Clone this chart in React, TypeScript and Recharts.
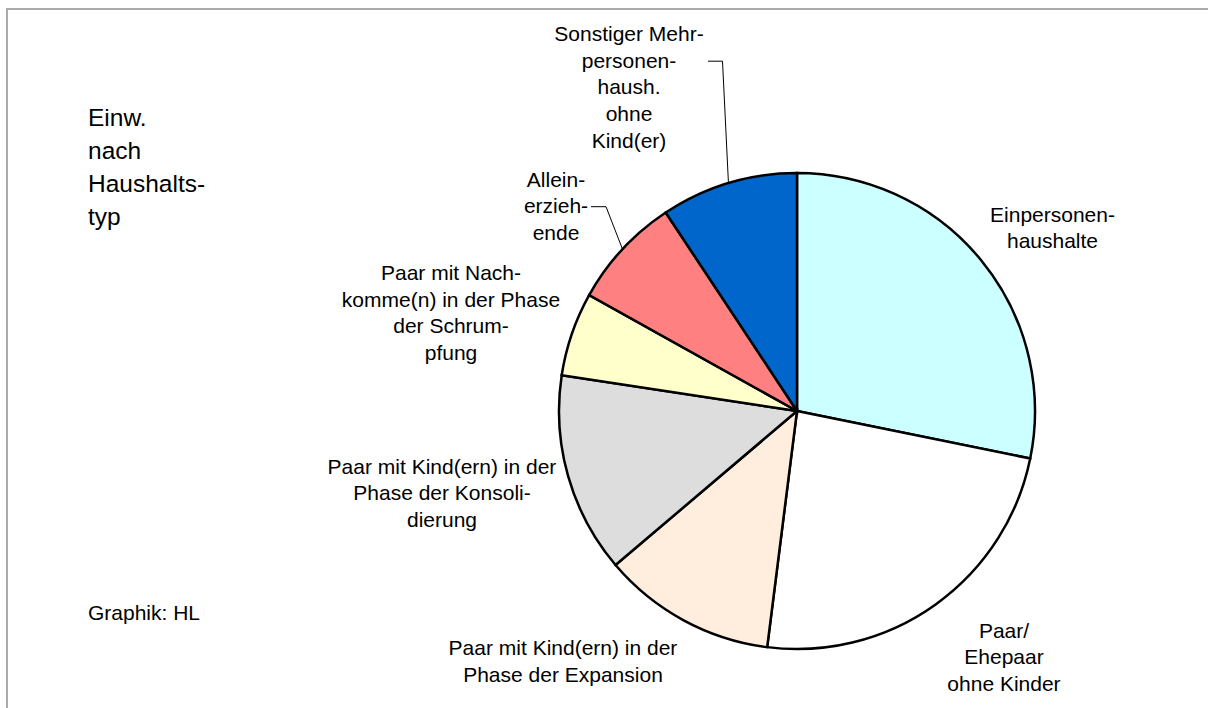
import { Cell, Pie, PieChart } from 'recharts'

const CATEGORIES = [
  'Einpersonenhaushalte',
  'Paar/Ehepaar ohne Kinder',
  'Paar mit Kind(ern) in der Phase der Expansion',
  'Paar mit Kind(ern) in der Phase der Konsolidierung',
  'Paar mit Nachkomme(n) in der Phase der Schrumpfung',
  'Alleinerziehende',
  'Sonstiger Mehrpersonenhaushalt ohne Kind(er)',
]
const SHARES = [28.2, 23.8, 11.8, 13.6, 5.7, 7.6, 9.3]
const LABEL_LINES = [
  ['Einpersonen-', 'haushalte'],
  ['Paar/', 'Ehepaar', 'ohne Kinder'],
  ['Paar mit Kind(ern) in der', 'Phase der Expansion'],
  ['Paar mit Kind(ern) in der', 'Phase der Konsoli-', 'dierung'],
  ['Paar mit Nach-', 'komme(n) in der Phase', 'der Schrum-', 'pfung'],
  ['Allein-', 'erzieh-', 'ende'],
  ['Sonstiger Mehr-', 'personen-', 'haush.', 'ohne', 'Kind(er)'],
]
const TITLE_LINES = ['Einw.', 'nach', 'Haushalts-', 'typ']
const SOURCE = 'Graphik: HL'

const COLORS = ['#CCFFFF', '#FFFFFF', '#FFEDDD', '#DDDDDD', '#FFFFCC', '#FF8080', '#0066CC']
const FONT = '"Liberation Sans", Arial, sans-serif'
const LABEL_SIZE = 21
const LINE_H = 26.7

const CX = 797
const CY = 411
const RADIUS = 238

// label anchor (center x, first baseline) relative to pie center; leader = elbow point
const LABEL_LAYOUT: { dx: number; dy: number; leader?: { x0: number; x1: number } }[] = [
  { dx: 255.5, dy: -189.5 },
  { dx: 207, dy: 226.5 },
  { dx: -234, dy: 244 },
  { dx: -355, dy: 62.5 },
  { dx: -346, dy: -131 },
  { dx: -241, dy: -224.5, leader: { x0: -206, x1: -191 } },
  { dx: -168, dy: -370, leader: { x0: -89, x1: -74.5 } },
]

const data = CATEGORIES.map((name, i) => ({ name, value: SHARES[i] }))

const RAD = Math.PI / 180

function renderLabel(props: any) {
  const { cx, cy, midAngle, outerRadius, index } = props
  const layout = LABEL_LAYOUT[index]
  const lines = LABEL_LINES[index]
  const x = cx + layout.dx
  const y0 = cy + layout.dy
  let leader = null
  if (layout.leader) {
    const ex = cx + outerRadius * Math.cos(-midAngle * RAD)
    const ey = cy + outerRadius * Math.sin(-midAngle * RAD)
    const ly = y0 + LINE_H - 6.5
    leader = (
      <polyline
        points={`${cx + layout.leader.x0},${ly} ${cx + layout.leader.x1},${ly} ${ex},${ey}`}
        fill="none"
        stroke="#000"
        strokeWidth={1}
      />
    )
  }
  return (
    <g key={`label-${index}`}>
      {leader}
      <text textAnchor="middle" fontFamily={FONT} fontSize={LABEL_SIZE} fill="#000">
        {lines.map((line, i) => (
          <tspan key={i} x={x} y={y0 + i * LINE_H}>
            {line}
          </tspan>
        ))}
      </text>
    </g>
  )
}

export default function App() {
  return (
    <div
      style={{
        position: 'absolute',
        left: 0,
        top: 0,
        width: 1208,
        height: 708,
        overflow: 'hidden',
        background: '#fff',
      }}
    >
      <div style={{ position: 'absolute', left: 0, top: 0 }}>
        <PieChart width={1208} height={708} margin={{ top: 0, right: 0, bottom: 0, left: 0 }}>
          <Pie
            data={data}
            dataKey="value"
            nameKey="name"
            cx={CX}
            cy={CY}
            outerRadius={RADIUS}
            startAngle={90}
            endAngle={-270}
            stroke="#000"
            strokeWidth={2.5}
            label={renderLabel}
            labelLine={false}
            isAnimationActive={false}
          >
            {data.map((d, i) => (
              <Cell key={d.name} fill={COLORS[i]} />
            ))}
          </Pie>
        </PieChart>
      </div>
      <svg
        width={1208}
        height={708}
        style={{ position: 'absolute', left: 0, top: 0, pointerEvents: 'none' }}
      >
        <polyline points="7,708 7,9 1208,9" fill="none" stroke="#ababab" strokeWidth={2} />
        <text fontFamily={FONT} fontSize={24.5} fill="#000">
          {TITLE_LINES.map((line, i) => (
            <tspan key={i} x={88} y={126 + i * 33}>
              {line}
            </tspan>
          ))}
        </text>
        <text x={88} y={620} fontFamily={FONT} fontSize={LABEL_SIZE} fill="#000">
          {SOURCE}
        </text>
      </svg>
    </div>
  )
}
